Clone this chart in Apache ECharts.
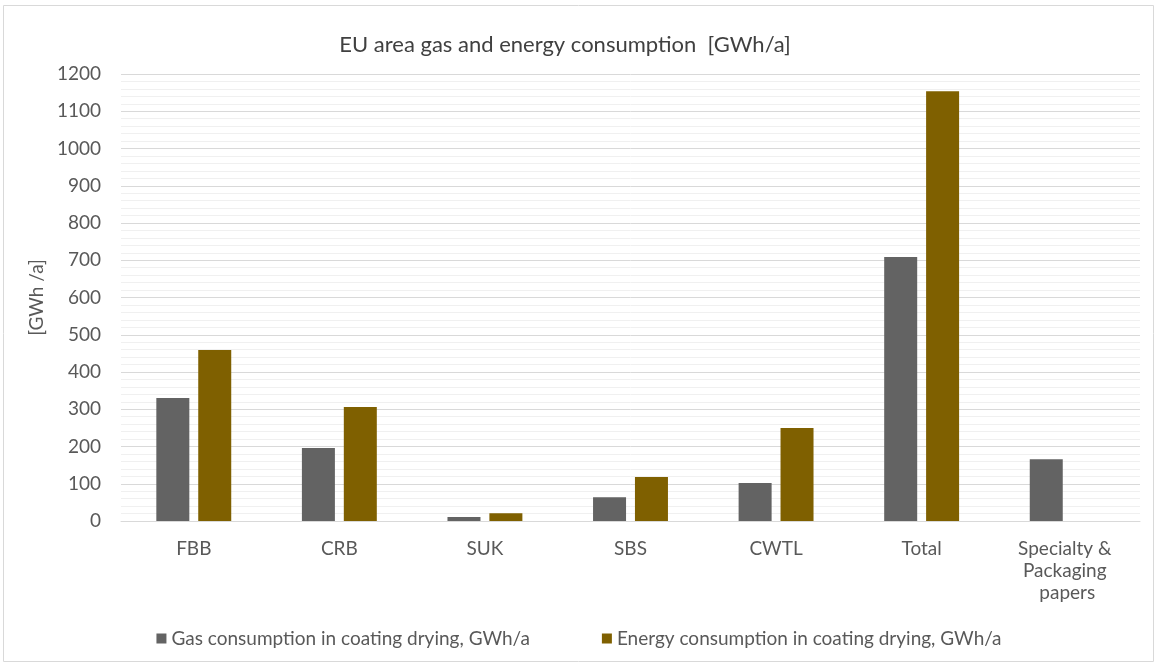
<!DOCTYPE html>
<html>
<head>
<meta charset="utf-8">
<script src="https://cdn.jsdelivr.net/npm/echarts@6/dist/echarts.min.js"></script>
<style>
html, body { margin: 0; padding: 0; background: #fff; }
#chart { width: 1158px; height: 666px; }
</style>
</head>
<body>
<div id="chart"></div>
<script>
// data
var categories = ['FBB', 'CRB', 'SUK', 'SBS', 'CWTL', 'Total', 'Specialty & Packaging papers'];
var gasValues = [330, 196, 11, 64, 102, 709, 166];
var energyValues = [459, 306, 21, 118, 250, 1154, null];
var seriesNames = ['Gas consumption in coating drying, GWh/a', 'Energy consumption in coating drying, GWh/a'];

var fontName = 'Lato';
var textColor = '#595959';

var myChart = echarts.init(document.getElementById('chart'));
var option = {
	color: ['#636363', '#7f6000'],
	textStyle: { fontFamily: fontName },
	title: {
		text: 'EU area gas and energy consumption  [GWh/a]',
		left: 560,
		top: 29,
		textAlign: 'center',
		textStyle: { fontFamily: fontName, fontSize: 22, fontWeight: 'normal', color: '#404040' }
	},
	graphic: [{
		type: 'rect',
		shape: { x: 3.5, y: 5.5, width: 1150, height: 656 },
		style: { fill: null, stroke: '#d9d9d9', lineWidth: 1 },
		silent: true
	}],
	legend: {
		bottom: 13,
		left: 'center',
		itemWidth: 10,
		itemHeight: 10,
		itemGap: 72,
		icon: 'rect',
		textStyle: { fontFamily: fontName, fontSize: 19, color: textColor },
		data: seriesNames
	},
	grid: {
		left: 121,
		right: 18,
		top: 74,
		bottom: 145
	},
	xAxis: {
		type: 'category',
		data: categories,
		axisLine: { lineStyle: { color: '#d9d9d9', width: 1 } },
		axisTick: { show: false },
		axisLabel: {
			color: textColor,
			fontFamily: fontName,
			fontSize: 19,
			margin: 17,
			lineHeight: 22,
			width: 120,
			overflow: 'break',
			interval: 0
		}
	},
	yAxis: {
		type: 'value',
		min: 0,
		max: 1200,
		interval: 100,
		name: '[GWh /a]',
		nameLocation: 'middle',
		nameGap: 72,
		nameRotate: 90,
		nameTextStyle: { fontFamily: fontName, fontSize: 19, color: textColor },
		axisLine: { show: false },
		axisTick: { show: false },
		axisLabel: {
			color: textColor,
			fontFamily: fontName,
			fontSize: 19,
			margin: 20,
			formatter: function (v) { return String(v); }
		},
		splitLine: { lineStyle: { color: '#d9d9d9', width: 1 } },
		minorTick: { show: false, splitNumber: 5 },
		minorSplitLine: { show: true, lineStyle: { color: '#f0f0f0', width: 1 } }
	},
	series: [{
		name: seriesNames[0],
		type: 'bar',
		barWidth: 33,
		barGap: '27%',
		data: gasValues
	}, {
		name: seriesNames[1],
		type: 'bar',
		barWidth: 33,
		data: energyValues
	}]
};
myChart.setOption(option);
window.onresize = function(){
	myChart.resize();
}
</script>
</body>
</html>
